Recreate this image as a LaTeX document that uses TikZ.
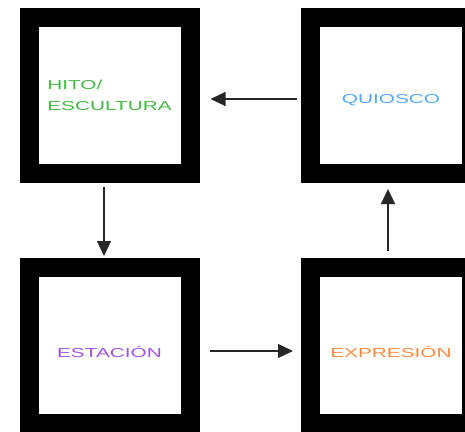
\documentclass[tikz,border=0pt]{standalone}
\usepackage{fontspec}
\usepackage{xcolor}
\newfontfamily\widefont[FakeStretch=1.6]{Liberation Sans}
\usetikzlibrary{arrows.meta}

\definecolor{hitogreen}{RGB}{70,185,70}
\definecolor{quioscoblue}{RGB}{85,170,255}
\definecolor{estacionpurple}{RGB}{160,85,225}
\definecolor{expresionorange}{RGB}{255,140,65}

\tikzset{
  placebox/.style = {draw = black, fill = white, line width = 19pt, outer sep = 9.5pt,
    minimum width = 161pt, minimum height = 156pt, inner sep = 0pt,
    font = \widefont\fontsize{13}{21}\selectfont, align = left},
  lowtext/.style = {text height = 24pt, text depth = 0pt},
  flow/.style = {draw = black!85, line width = 1.2pt, -{Triangle[length=15pt,width=14pt]}}
}

\begin{document}
\begin{tikzpicture}[x=1pt,y=-1pt]
\useasboundingbox (0,0) rectangle (465,431);
\clip (0,0) rectangle (465,431);

\node[placebox, text = hitogreen] (hito) at (109.5,95.5) {HITO/\\ESCULTURA};
\node[placebox, text height = 15pt, text depth = 0pt, text = quioscoblue] (quiosco) at (391,95.5) {QUIOSCO};
\node[placebox, lowtext, text = estacionpurple] (estacion) at (109.5,345.5) {ESTACIÓN};
\node[placebox, lowtext, text = expresionorange] (expresion) at (391,345.5) {EXPRESIÓN};

\draw[flow, shorten <=4pt, shorten >=11pt] ([yshift=-3.5pt]quiosco.west) -- ([yshift=-3.5pt]hito.east);
\draw[flow, shorten <=4pt, shorten >=2pt] ([xshift=-5.5pt]hito.south) -- ([xshift=-5.5pt]estacion.north);
\draw[flow, shorten <=10pt, shorten >=8pt] ([yshift=-5.5pt]estacion.east) -- ([yshift=-5.5pt]expresion.west);
\draw[flow, shorten <=7pt, shorten >=6pt] ([xshift=-3pt]expresion.north) -- ([xshift=-3pt]quiosco.south);

\end{tikzpicture}
\end{document}
